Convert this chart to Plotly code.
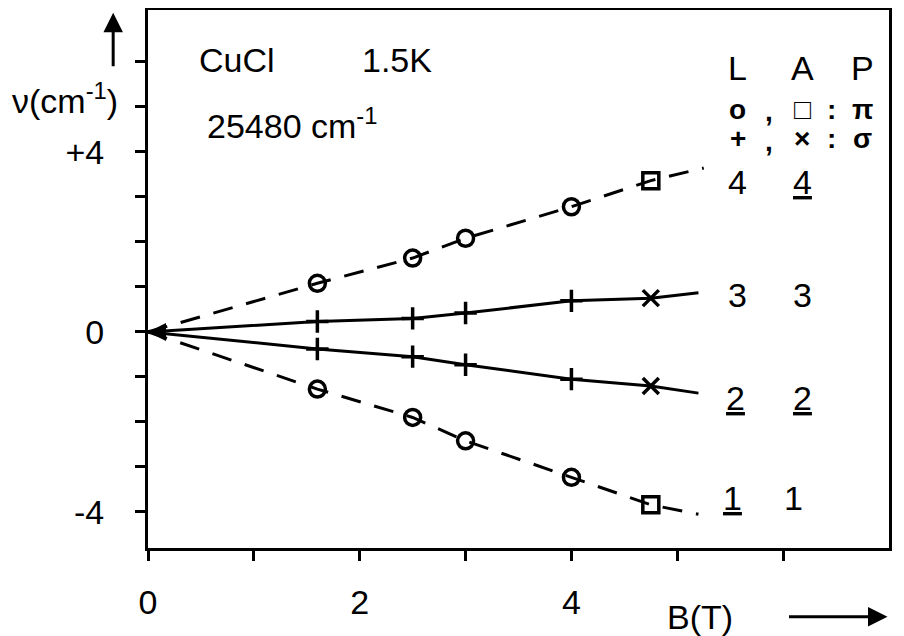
import plotly.graph_objects as go

# ---- data ----
B = [1.6, 2.5, 3.0, 4.0, 4.75]
level4 = [1.08, 1.64, 2.08, 2.78, 3.36]
level3 = [0.23, 0.30, 0.42, 0.69, 0.75]
level2 = [-0.38, -0.55, -0.73, -1.05, -1.20]
level1 = [-1.27, -1.90, -2.42, -3.23, -3.84]
line_end_B = [5.25, 5.2, 5.2, 5.2]
line_end_nu = [3.64, 0.87, -1.36, -4.05]
sym_pi = ["circle-open"] * 4 + ["square-open"]
sym_sigma = ["cross-thin"] * 4 + ["x-thin"]
x_tickvals = [0, 1, 2, 3, 4, 5, 6]
x_ticktext = ["0", "", "2", "", "4", "", ""]
y_tickvals = [-4, -3, -2, -1, 0, 1, 2, 3, 4, 5, 6]
y_ticktext = ["-4", "", "", "", "0", "", "", "", "+4", "", ""]

FONT = "Liberation Sans"
FS = 34
fig = go.Figure()

series = [
    (level4, sym_pi, "dash", 0),
    (level3, sym_sigma, "solid", 1),
    (level2, sym_sigma, "solid", 2),
    (level1, sym_pi, "dash", 3),
]
for vals, syms, dash, i in series:
    fig.add_trace(go.Scatter(
        x=[0] + B + [line_end_B[i]], y=[0] + vals + [line_end_nu[i]],
        mode="lines", line=dict(color="black", width=3,
                                dash="20px,14px" if dash == "dash" else "solid"),
        showlegend=False, hoverinfo="skip"))
    fig.add_trace(go.Scatter(
        x=B, y=vals, mode="markers",
        marker=dict(symbol=syms, size=16, color="black",
                    line=dict(color="black", width=3.5)),
        showlegend=False))

fig.update_xaxes(range=[0, 7], tickvals=x_tickvals, ticktext=x_ticktext,
                 ticks="outside", ticklen=10, tickwidth=3, tickcolor="black",
                 showline=True, linewidth=3, linecolor="black", mirror=True,
                 showgrid=False, zeroline=False, ticklabelstandoff=12,
                 automargin=False,
                 tickfont=dict(family=FONT, size=FS, color="black"))
fig.update_yaxes(range=[-4.8, 7.15], tickvals=y_tickvals, ticktext=y_ticktext,
                 ticks="outside", ticklen=10, tickwidth=3, tickcolor="black",
                 showline=True, linewidth=3, linecolor="black", mirror=True,
                 showgrid=False, zeroline=False, ticklabelstandoff=24,
                 automargin=False,
                 tickfont=dict(family=FONT, size=FS, color="black"))

ann = []
def txt(x, y, s, xanchor="center", under=False, size=FS):
    ann.append(dict(x=x, y=y, xref="x", yref="y", text=s, showarrow=False,
                    xanchor=xanchor, yanchor="middle",
                    font=dict(family=FONT, size=size, color="black",
                              lineposition="under" if under else "none")))

txt(0.46, 6.04, "CuCl", "left")
txt(2.0, 6.04, "1.5K", "left")
txt(0.54, 4.64, "25480 cm<sup>-1</sup>", "left")
# key
KS = 28
txt(5.57, 5.87, "L"); txt(6.18, 5.87, "A"); txt(6.75, 5.87, "P")
txt(5.57, 4.95, "<b>o</b>", size=KS); txt(5.87, 4.9, "<b>,</b>", size=KS)
txt(6.18, 4.95, "<b>□</b>", size=KS)
txt(6.46, 4.95, "<b>:</b>", size=KS); txt(6.75, 4.95, "<b>π</b>", size=KS)
txt(5.57, 4.3, "<b>+</b>", size=KS); txt(5.87, 4.22, "<b>,</b>", size=KS)
txt(6.18, 4.3, "<b>×</b>", size=KS)
txt(6.46, 4.3, "<b>:</b>", size=KS); txt(6.75, 4.3, "<b>σ</b>", size=KS)
# level labels
txt(5.57, 3.33, "4"); txt(6.18, 3.33, "4", under=True)
txt(5.57, 0.82, "3"); txt(6.18, 0.82, "3")
txt(5.55, -1.47, "2", under=True); txt(6.18, -1.47, "2", under=True)
txt(5.52, -3.69, "1", under=True); txt(6.1, -3.69, "1")

# axis titles
ann.append(dict(x=-0.112, y=0.835, xref="paper", yref="paper",
                text="ν(cm<sup>-1</sup>)", showarrow=False, xanchor="center",
                yanchor="middle", font=dict(family=FONT, size=FS, color="black")))
ann.append(dict(x=-0.047, y=0.995, xref="paper", yref="paper", text="",
                showarrow=True, ax=0, ay=55, axref="pixel", ayref="pixel",
                arrowhead=2, arrowsize=1.3, arrowwidth=3, arrowcolor="black"))
ann.append(dict(x=0.745, y=-0.128, xref="paper", yref="paper", text="B(T)",
                showarrow=False, xanchor="center", yanchor="middle",
                font=dict(family=FONT, size=FS, color="black")))
ann.append(dict(x=0.998, y=-0.128, xref="paper", yref="paper", text="",
                showarrow=True, ax=-100, ay=0, arrowhead=2, arrowsize=1.3,
                arrowwidth=3, arrowcolor="black"))
# arrow at origin
ann.append(dict(x=0, y=0, xref="x", yref="y", text="", showarrow=True,
                ax=18, ay=0, arrowhead=2, arrowsize=1.2, arrowwidth=3,
                arrowcolor="black"))

# page body adds an 8px offset, so the figure is 8px smaller on each axis
fig.update_layout(width=896, height=628, margin=dict(l=140, r=15, t=2, b=88),
                  paper_bgcolor="white", plot_bgcolor="white",
                  annotations=ann, showlegend=False)
fig.write_html("out.html")
